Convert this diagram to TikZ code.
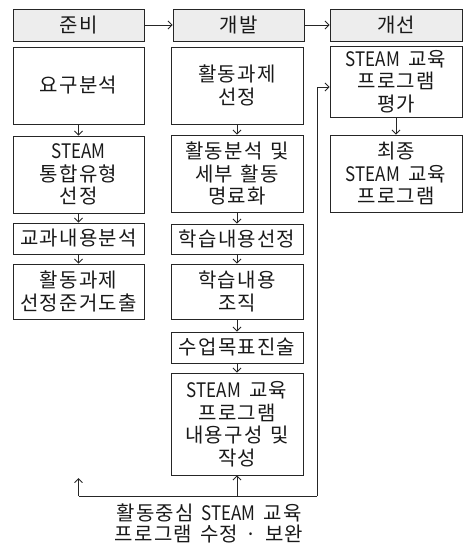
\documentclass[tikz,border=0pt]{standalone}
\usepackage{fontspec}
\setmainfont{Noto Sans CJK KR}[LetterSpace=6, WordSpace=1.4]
\newfontfamily\latfont{Noto Sans CJK KR}[FakeStretch=0.85]
\newcommand{\stm}{{\latfont STEAM}}
\usetikzlibrary{arrows.meta}
\tikzset{
  box/.style={draw=black!85, line width=0.9pt, minimum width=131pt, inner sep=0pt,
    align=center, font=\fontsize{20}{22.5}\selectfont, text=black!90},
  hbox/.style={box, fill=black!7, minimum height=32pt},
  arr/.style={-{Straight Barb[length=4pt,width=8pt]}, line width=0.9pt, draw=black!85},
  ln/.style={line width=0.9pt, draw=black!85},
}
\begin{document}
\begin{tikzpicture}[x=1pt,y=-1pt]
\useasboundingbox (0,0) rectangle (463,545);
% headers
\node[hbox] (h1) at (78.5,25) {준비};
\node[hbox] (h2) at (238.5,25) {개발};
\node[hbox, minimum width=132pt] (h3) at (396,25) {개선};
% column 1
\node[box, minimum height=77pt] (a1) at (78.5,85.5) {요구분석};
\node[box, minimum height=77pt] (a2) at (78.5,174.5) {\stm\\통합유형\\선정};
\node[box, minimum height=31pt] (a3) at (78.5,238.5) {교과내용분석};
\node[box, minimum height=55pt] (a4) at (78.5,291.5) {활동과제\\선정준거도출};
% column 2
\node[box, minimum width=132pt, minimum height=77pt] (b1) at (237,85.5) {활동과제\\선정};
\node[box, minimum width=132pt, minimum height=77pt] (b2) at (237,173.5) {활동분석 및\\세부 활동\\명료화};
\node[box, minimum width=132pt, minimum height=30pt] (b3) at (237,239) {학습내용선정};
\node[box, minimum width=132pt, minimum height=55pt] (b4) at (237,291.5) {학습내용\\조직};
\node[box, minimum width=132pt, minimum height=31pt] (b5) at (237,347.5) {수업목표진술};
\node[box, minimum width=132pt, minimum height=102pt] (b6) at (237,424) {\stm{} 교육\\프로그램\\내용구성 및\\작성};
% column 3
\node[box, minimum width=132pt, minimum height=71pt] (c1) at (396,81.5) {\stm{} 교육\\프로그램\\평가};
\node[box, minimum width=132pt, minimum height=77pt] (c2) at (396,173.5) {최종\\\stm{} 교육\\프로그램};
% label
\node[align=center, inner sep=0pt, font=\fontsize{20}{21}\selectfont, text=black!90] (lab) at (209,523) {활동중심 \stm{} 교육\\프로그램 수정 · 보완};
% header arrows
\draw[arr] (h1) -- (h2);
\draw[arr] (h2) -- (h3);
% vertical arrows
\draw[arr] (a1) -- (a2);
\draw[arr] (a2) -- (a3);
\draw[arr] (a3) -- (a4);
\draw[arr] (b1) -- (b2);
\draw[arr] (b2) -- (b3);
\draw[arr] (b3) -- (b4);
\draw[arr] (b4) -- (b5);
\draw[arr] (b5) -- (b6);
\draw[arr] (c1) -- (c2);
% feedback
\coordinate (fL) at (78.5,496);
\coordinate (fLtip) at (78.5,478);
\coordinate (fR) at (317,496);
\coordinate (fT) at (317,87);
\draw[ln] (fL) -- (fR);
\draw[arr] (fL) -- (fLtip);
\draw[arr] (b6.south |- fL) -- (b6.south);
\draw[arr] (fR) -- (fT) -- (fT -| c1.west);
\end{tikzpicture}
\end{document}
